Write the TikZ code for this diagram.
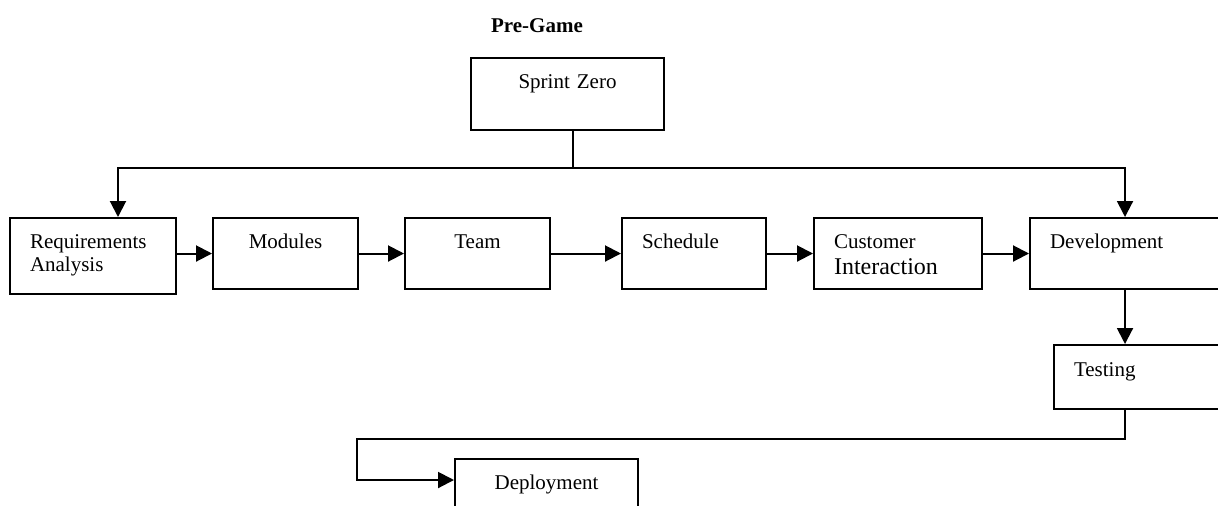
\documentclass[tikz,border=0pt]{standalone}
\usepackage{fontspec}
\setmainfont{Liberation Serif}
\usepackage{tikz}
\usetikzlibrary{calc, arrows.meta}

\tikzset{
  stageBox/.style={draw, line width=1pt, anchor=north west, inner ysep=0pt,
                   text height=15pt, font=\fontsize{10.5}{11.5}\selectfont},
  leftText/.style={inner xsep=10pt, align=left},
  midText/.style={inner xsep=0pt, align=center},
  flowLine/.style={line width=1pt},
  flowArrow/.style={line width=1pt, -{Triangle[length=8pt, width=8pt]}}
}

\begin{document}
\begin{tikzpicture}[x=0.5pt, y=-0.5pt]
      \path[use as bounding box, clip] (0,0) rectangle (1218,505);
      \node[anchor=base, font=\bfseries\fontsize{10.5}{12}\selectfont] (preGame) at (537,32) {Pre-Game};
      \node[stageBox, midText, text width=96.5pt, text depth=21pt] (sprintZero) at (470,57) {Sprint Zero};
      \node[stageBox, leftText, text width=63pt, text depth=23pt] (reqAnalysis) at (9,217) {Requirements\\Analysis};
      \node[stageBox, midText, text width=72.5pt, text depth=20.5pt] (modules) at (212,217) {Modules};
      \node[stageBox, midText, text width=72.5pt, text depth=20.5pt] (team) at (404,217) {Team};
      \node[stageBox, leftText, text width=52pt, text depth=20.5pt] (schedule) at (621,217) {Schedule};
      \node[stageBox, leftText, text width=64pt, text depth=20.5pt] (custInteraction) at (813,217)
        {Customer\\[1.5pt]{\fontsize{12}{13}\selectfont Interaction}};
      \node[stageBox, leftText, text width=85.5pt, text depth=20.5pt] (development) at (1029,217) {Development};
      \node[stageBox, leftText, text width=75pt, text height=15.5pt, text depth=16.5pt] (testing) at (1053,344) {Testing};
      \node[stageBox, midText, text width=91.5pt, text depth=20pt] (deployment) at (454,458) {Deployment};
      \coordinate (split) at (573,168);
      \coordinate (turn) at (357,439);
      \draw[flowLine] (sprintZero.south -| split) -- (split);
      \draw[flowArrow] (split) -| ([xshift=54.5pt]reqAnalysis.north west);
      \draw[flowArrow] (split) -| ([xshift=48pt]development.north west);
      \draw[flowArrow] (reqAnalysis.east |- modules.west) -- (modules.west);
      \draw[flowArrow] (modules.east) -- (team.west);
      \draw[flowArrow] (team.east) -- (schedule.west);
      \draw[flowArrow] (schedule.east) -- (custInteraction.west);
      \draw[flowArrow] (custInteraction.east) -- (development.west);
      \draw[flowArrow] ([xshift=48pt]development.south west) -- ([xshift=36pt]testing.north west);
      \draw[flowArrow] ([xshift=36pt]testing.south west) |- (turn) |- ([yshift=-11pt]deployment.north west);
    \end{tikzpicture}
\end{document}
